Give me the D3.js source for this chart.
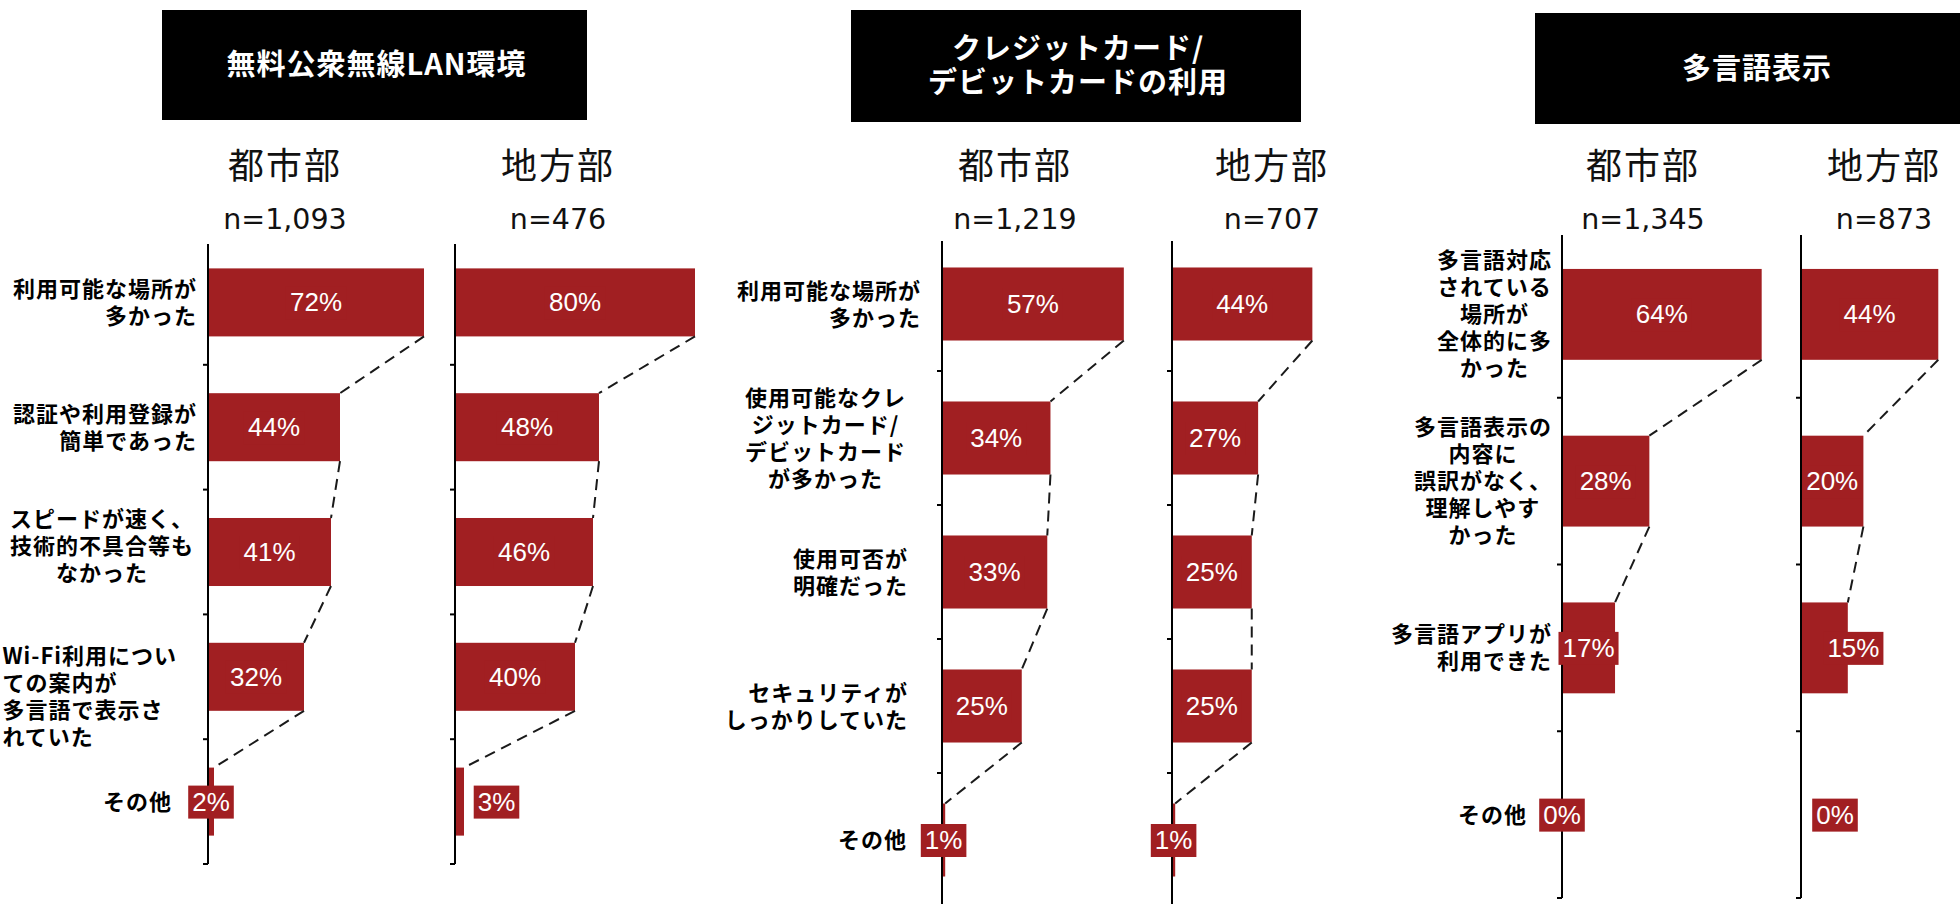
<!DOCTYPE html>
<html>
<head>
<meta charset="utf-8">
<script src="https://cdn.jsdelivr.net/npm/d3@7"></script>
<style>
  body { margin: 0; background: #fff; }
  svg { display: block; }
</style>
</head>
<body>
<svg id="chart" width="1960" height="904"></svg>
<script>
// ---- data ----
var groupNames = ["都市部", "地方部"];

var wifiTitle = ["無料公衆無線LAN環境"];
var wifiCats = ["利用可能な場所が\n多かった", "認証や利用登録が\n簡単であった", "スピードが速く、\n技術的不具合等も\nなかった", "Wi-Fi利用につい\nての案内が\n多言語で表示さ\nれていた", "その他"];
var wifiN = ["n=1,093", "n=476"];
var wifiUrban = [72, 44, 41, 32, 2];
var wifiRural = [80, 48, 46, 40, 3];

var cardTitle = ["クレジットカード/", "デビットカードの利用"];
var cardCats = ["利用可能な場所が\n多かった", "使用可能なクレ\nジットカード/\nデビットカード\nが多かった", "使用可否が\n明確だった", "セキュリティが\nしっかりしていた", "その他"];
var cardN = ["n=1,219", "n=707"];
var cardUrban = [57, 34, 33, 25, 1];
var cardRural = [44, 27, 25, 25, 1];

var langTitle = ["多言語表示"];
var langCats = ["多言語対応\nされている\n場所が\n全体的に多\nかった", "多言語表示の\n内容に\n誤訳がなく、\n理解しやす\nかった", "多言語アプリが\n利用できた", "その他"];
var langN = ["n=1,345", "n=873"];
var langUrban = [64, 28, 17, 0];
var langRural = [44, 20, 15, 0];

// ---- layout (per panel) ----
var panels = [
  { title: wifiTitle, cats: wifiCats, n: wifiN, vals: [wifiUrban, wifiRural],
    box: [162, 10, 425, 110], axes: [208, 455], pxPerPct: 3.0, yRange: [240, 864], head: [285, 558],
    catStyle: [["end", 11, 0], ["end", 11, 0], ["middle", 14, -6], ["start", 31, 20], ["end", 36, 0]],
    shift: [[0, 0, 0, 0, 0], [0, 0, 0, 0, 37]] },
  { title: cardTitle, cats: cardCats, n: cardN, vals: [cardUrban, cardRural],
    box: [851, 10, 450, 112], axes: [942, 1172], pxPerPct: 3.19, yRange: [237, 907], head: [1015, 1272],
    catStyle: [["end", 21, 0], ["middle", 36, 0], ["end", 34, 0], ["end", 34, 0], ["end", 35, 0]],
    shift: [[0, 0, 0, 0, 0], [0, 0, 0, 0, 0]] },
  { title: langTitle, cats: langCats, n: langN, vals: [langUrban, langRural],
    box: [1535, 13, 440, 111], axes: [1562, 1801], pxPerPct: 3.12, yRange: [231, 898], head: [1643, 1884],
    catStyle: [["middle", 10, 0], ["middle", 10, 0], ["end", 10, 0], ["end", 35, 0]],
    shift: [[0, 0, 0, 0], [0, 0, 29, 34]] }
];

var red = "#A11F22";
var cjk = "'Noto Sans CJK JP', 'Noto Sans', sans-serif";

var svg = d3.select("#chart");

panels.forEach(function (p) {
  var g = svg.append("g");

  // title box, multi-line title kept in one text element
  g.append("rect")
    .attr("x", p.box[0]).attr("y", p.box[1])
    .attr("width", p.box[2]).attr("height", p.box[3])
    .attr("fill", "#000");
  var tcx = p.box[0] + p.box[2] / 2, tcy = p.box[1] + p.box[3] / 2;
  var tt = g.append("text")
    .attr("text-anchor", "middle")
    .style("font-family", cjk).style("font-weight", 700)
    .style("font-size", "29px").style("letter-spacing", "1px")
    .attr("fill", "#fff");
  p.title.forEach(function (line, i) {
    tt.append("tspan")
      .attr("x", tcx + 2)
      .attr("y", tcy + (i - (p.title.length - 1) / 2) * 34 + 10)
      .text(line);
  });

  // y band scale shared by both groups
  var y = d3.scaleBand()
    .domain(p.cats)
    .range(p.yRange)
    .paddingInner(0.455)
    .paddingOuter(0.2275);
  var bw = y.bandwidth(), step = y.step();

  // category labels, left of the urban axis
  p.cats.forEach(function (c, i) {
    var st = p.catStyle[i];
    var lines = c.split("\n");
    var cy = y(c) + bw / 2 + st[2];
    var t = g.append("text")
      .style("font-family", cjk).style("font-weight", 700)
      .style("font-size", "22px").style("letter-spacing", "1px")
      .attr("fill", "#000");
    var spans = lines.map(function (line, j) {
      return t.append("tspan")
        .attr("y", cy + (j - (lines.length - 1) / 2) * 27 + 8)
        .text(line);
    });
    var maxW = d3.max(spans, function (s) { return s.node().getComputedTextLength(); });
    var right = p.axes[0] - st[1];
    spans.forEach(function (s) {
      if (st[0] === "end") s.attr("x", right).attr("text-anchor", "end");
      else if (st[0] === "middle") s.attr("x", right - maxW / 2).attr("text-anchor", "middle");
      else s.attr("x", right - maxW).attr("text-anchor", "start");
    });
  });

  // each group: urban / rural
  p.vals.forEach(function (vals, k) {
    var ax = p.axes[k];
    var x = d3.scaleLinear().domain([0, 100]).range([ax, ax + p.pxPerPct * 100]);

    // headings
    g.append("text")
      .attr("x", p.head[k]).attr("y", 163)
      .attr("text-anchor", "middle").attr("dominant-baseline", "central")
      .style("font-family", cjk).style("font-size", "36px").style("letter-spacing", "2px")
      .attr("fill", "#111")
      .text(groupNames[k]);
    g.append("text")
      .attr("x", p.head[k]).attr("y", 219)
      .attr("text-anchor", "middle").attr("dominant-baseline", "central")
      .style("font-family", "'DejaVu Sans', sans-serif").style("font-size", "28.5px")
      .attr("fill", "#111")
      .text(p.n[k]);

    // bars
    g.append("g").selectAll("rect")
      .data(vals)
      .enter().append("rect")
      .attr("x", x(0))
      .attr("y", function (d, i) { return y(p.cats[i]); })
      .attr("width", function (d) { return x(d) - x(0); })
      .attr("height", bw)
      .attr("fill", red);

    // dashed series lines
    var lines = g.append("g");
    vals.forEach(function (d, i) {
      if (i === vals.length - 1 || vals[i + 1] === 0) return;
      lines.append("line")
        .attr("x1", x(d)).attr("y1", y(p.cats[i]) + bw)
        .attr("x2", x(vals[i + 1])).attr("y2", y(p.cats[i + 1]))
        .attr("stroke", "#1a1a1a").attr("stroke-width", 2)
        .attr("stroke-dasharray", "11,7");
    });

    // axis line + ticks
    g.append("line")
      .attr("x1", ax).attr("x2", ax)
      .attr("y1", p.yRange[0] + 4).attr("y2", p.yRange[1])
      .attr("stroke", "#000").attr("stroke-width", 2);
    p.cats.forEach(function (c) {
      var ty = y(c) + bw + (step - bw) / 2;
      g.append("line")
        .attr("x1", ax - 5).attr("x2", ax)
        .attr("y1", ty).attr("y2", ty)
        .attr("stroke", "#000").attr("stroke-width", 2);
    });

    // value labels with red fill
    vals.forEach(function (d, i) {
      var cx = (x(d) + x(0)) / 2 + p.shift[k][i];
      var cy = y(p.cats[i]) + bw / 2;
      var lb = g.append("g");
      var box = lb.append("rect").attr("fill", red);
      var t = lb.append("text")
        .attr("x", cx).attr("y", cy)
        .attr("text-anchor", "middle").attr("dominant-baseline", "central")
        .style("font-family", "'Liberation Sans', Arial, sans-serif").style("font-size", "26px")
        .attr("fill", "#fff")
        .text(d + "%");
      var w = t.node().getComputedTextLength();
      box.attr("x", cx - w / 2 - 4).attr("y", cy - 16)
        .attr("width", w + 8).attr("height", 33);
    });
  });
});
</script>
</body>
</html>
